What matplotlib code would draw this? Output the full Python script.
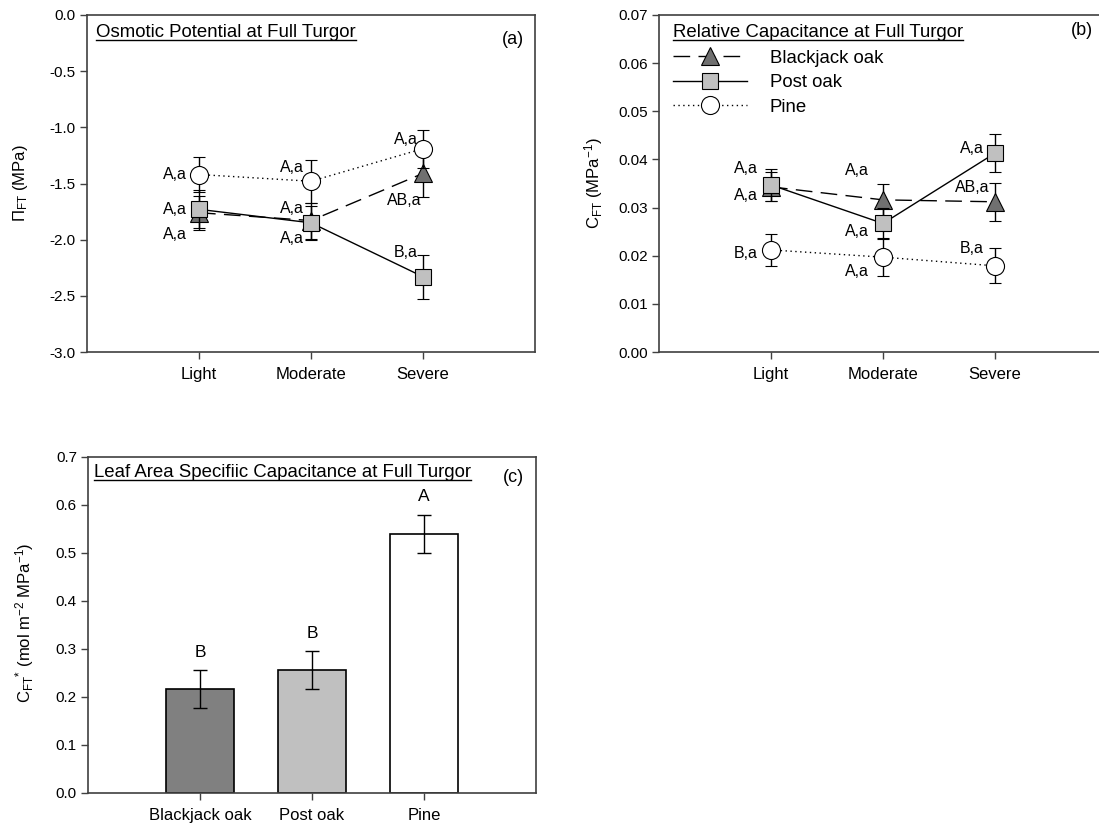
import matplotlib
matplotlib.use("Agg")
import matplotlib.pyplot as plt
import numpy as np
from matplotlib.lines import Line2D

plt.rcParams['font.family'] = ['Liberation Sans', 'DejaVu Sans']
plt.rcParams['mathtext.fontset'] = 'custom'
plt.rcParams['mathtext.rm'] = 'Liberation Sans'
plt.rcParams['mathtext.it'] = 'Liberation Sans:italic'
plt.rcParams['mathtext.bf'] = 'Liberation Sans:bold'

# ---------------- data ----------------
treatments = ["Light", "Moderate", "Severe"]
species = ["Blackjack oak", "Post oak", "Pine"]

# (a) osmotic potential at full turgor (MPa)
pi_blackjack = [-1.76, -1.83, -1.41]
pi_blackjack_err = [0.15, 0.16, 0.21]
pi_post = [-1.73, -1.85, -2.33]
pi_post_err = [0.17, 0.15, 0.195]
pi_pine = [-1.42, -1.48, -1.19]
pi_pine_err = [0.16, 0.19, 0.17]
pi_lab_blackjack = ["A,a", "A,a", "AB,a"]
pi_lab_post = ["A,a", "A,a", "B,a"]
pi_lab_pine = ["A,a", "A,a", "A,a"]

# (b) relative capacitance at full turgor (MPa^-1)
c_blackjack = [0.0343, 0.0316, 0.0312]
c_blackjack_err = [0.003, 0.0033, 0.004]
c_post = [0.0347, 0.0267, 0.0413]
c_post_err = [0.0034, 0.0032, 0.004]
c_pine = [0.0212, 0.0197, 0.0179]
c_pine_err = [0.0034, 0.004, 0.0036]
c_lab_post = ["A,a", "A,a", "A,a"]
c_lab_blackjack = ["A,a", "A,a", "AB,a"]
c_lab_pine = ["B,a", "A,a", "B,a"]

# (c) leaf area specific capacitance
cstar = [0.217, 0.256, 0.540]
cstar_err = [0.039, 0.039, 0.040]
cstar_lab = ["B", "B", "A"]

# ---------------- styling ----------------
W, H = 1099, 827
fig = plt.figure(figsize=(W / 100, H / 100), dpi=100)

def px_axes(left, top, right, bottom):
    return fig.add_axes([left / W, 1 - bottom / H, (right - left) / W, (bottom - top) / H])

spine_col = "#404040"
tri_col = "#707070"
sq_col = "#c0c0c0"
dash_ls = (0, (12, 6))
dot_ls = (0, (1, 2.5))

def style_axes(ax):
    for s in ax.spines.values():
        s.set_color(spine_col)
        s.set_linewidth(1.2)
    ax.tick_params(axis='both', direction='out', length=5, width=1, color=spine_col)
    ax.tick_params(axis='y', labelsize=11, pad=3)
    ax.tick_params(axis='x', labelsize=12, pad=6)
    ax.set_xlim(-1, 3)

def underlined_title(ax, x, y, s):
    t = ax.text(x, y, s, transform=ax.transAxes, fontsize=13.4, ha='left', va='center')
    return t

line_kw = dict(color='black', lw=1.0, elinewidth=1.0, capsize=4.5, capthick=1.0, ecolor='black')
xs = np.arange(len(treatments))

# ---------------- (a) ----------------
axa = px_axes(87, 15, 535, 352)
style_axes(axa)
axa.errorbar(xs, pi_blackjack, yerr=pi_blackjack_err, linestyle=dash_ls, marker='^',
             ms=13, mfc=tri_col, mec='black', mew=0.8, zorder=3, **line_kw)
axa.errorbar(xs, pi_post, yerr=pi_post_err, linestyle='-', marker='s',
             ms=12, mfc=sq_col, mec='black', mew=0.8, zorder=4, **line_kw)
axa.errorbar(xs, pi_pine, yerr=pi_pine_err, linestyle=dot_ls, marker='o',
             ms=13, mfc='white', mec='black', mew=0.8, zorder=5, **line_kw)
axa.set_ylim(-3.0, 0.0)
axa.set_yticks(np.arange(-3.0, 0.01, 0.5))
axa.set_yticklabels([f"{v:.1f}" for v in np.arange(-3.0, 0.01, 0.5)])
axa.set_xticks(xs)
axa.set_xticklabels(treatments)
ta = underlined_title(axa, 0.02, 0.947, "Osmotic Potential at Full Turgor")
axa.text(0.951, 0.926, "(a)", transform=axa.transAxes, fontsize=13, ha='center', va='center')
ann = 11.5
a_pos_pine = [(-0.11, -1.42), (0.94, -1.36), (1.95, -1.11)]
a_pos_post = [(-0.11, -1.73), (0.94, -1.72), (1.95, -2.11)]
a_pos_bj = [(-0.11, -1.95), (0.94, -1.99), (1.99, -1.65)]
for (x, y), s in zip(a_pos_pine, pi_lab_pine):
    axa.text(x, y, s, fontsize=ann, ha='right', va='center')
for (x, y), s in zip(a_pos_post, pi_lab_post):
    axa.text(x, y, s, fontsize=ann, ha='right', va='center')
for (x, y), s in zip(a_pos_bj, pi_lab_blackjack):
    axa.text(x, y, s, fontsize=ann, ha='right', va='center')
fig.text(20 / W, 1 - 183 / H, r"$\Pi_{\mathrm{FT}}$ (MPa)", rotation=90, fontsize=12,
         ha='center', va='center')

# ---------------- (b) ----------------
axb = px_axes(659, 15, 1107, 352)
style_axes(axb)
axb.errorbar(xs, c_blackjack, yerr=c_blackjack_err, linestyle=dash_ls, marker='^',
             ms=13, mfc=tri_col, mec='black', mew=0.8, zorder=3, **line_kw)
axb.errorbar(xs, c_post, yerr=c_post_err, linestyle='-', marker='s',
             ms=12, mfc=sq_col, mec='black', mew=0.8, zorder=4, **line_kw)
axb.errorbar(xs, c_pine, yerr=c_pine_err, linestyle=dot_ls, marker='o',
             ms=13, mfc='white', mec='black', mew=0.8, zorder=5, **line_kw)
axb.set_ylim(0, 0.07)
axb.set_yticks(np.arange(0, 0.0701, 0.01))
axb.set_yticklabels([f"{v:.2f}" for v in np.arange(0, 0.0701, 0.01)])
axb.set_xticks(xs)
axb.set_xticklabels(treatments)
tb = underlined_title(axb, 0.031, 0.947, "Relative Capacitance at Full Turgor")
axb.text(0.944, 0.955, "(b)", transform=axb.transAxes, fontsize=13, ha='center', va='center')
b_pos_post = [(-0.12, 0.0325), (0.87, 0.0250), (1.90, 0.0422)]
b_pos_bj = [(-0.12, 0.0382), (0.87, 0.0378), (1.95, 0.0341)]
b_pos_pine = [(-0.12, 0.0204), (0.87, 0.0167), (1.90, 0.0214)]
for (x, y), s in zip(b_pos_post, c_lab_post):
    axb.text(x, y, s, fontsize=ann, ha='right', va='center')
for (x, y), s in zip(b_pos_bj, c_lab_blackjack):
    axb.text(x, y, s, fontsize=ann, ha='right', va='center')
for (x, y), s in zip(b_pos_pine, c_lab_pine):
    axb.text(x, y, s, fontsize=ann, ha='right', va='center')
leg_handles = [
    Line2D([], [], color='black', lw=1.0, linestyle=dash_ls, marker='^', ms=13,
           mfc=tri_col, mec='black', mew=0.8),
    Line2D([], [], color='black', lw=1.0, linestyle='-', marker='s', ms=12,
           mfc=sq_col, mec='black', mew=0.8),
    Line2D([], [], color='black', lw=1.0, linestyle=dot_ls, marker='o', ms=13,
           mfc='white', mec='black', mew=0.8),
]
axb.legend(leg_handles, species, loc='upper left', bbox_to_anchor=(0.031, 0.897),
           frameon=False, fontsize=13.4, handlelength=4.0, handletextpad=1.2,
           labelspacing=0.4, borderaxespad=0, borderpad=0)
fig.text(594 / W, 1 - 183 / H, r"C$_{\mathrm{FT}}$ (MPa$^{-1}$)", rotation=90, fontsize=12,
         ha='center', va='center')

# ---------------- (c) ----------------
axc = px_axes(88, 457, 536, 793)
style_axes(axc)
bar_cols = ["#808080", "#c0c0c0", "#ffffff"]
xb = np.arange(len(species))
axc.bar(xb, cstar, width=0.6, color=bar_cols, edgecolor='black', linewidth=1.2, zorder=2)
axc.errorbar(xb, cstar, yerr=cstar_err, fmt='none', ecolor='black', elinewidth=1.0,
             capsize=5, capthick=1.0, zorder=3)
axc.set_ylim(0, 0.7)
axc.set_yticks(np.arange(0, 0.701, 0.1))
axc.set_yticklabels([f"{v:.1f}" for v in np.arange(0, 0.701, 0.1)])
axc.set_xticks(xb)
axc.set_xticklabels(species)
tc = underlined_title(axc, 0.013, 0.955, "Leaf Area Specifiic Capacitance at Full Turgor")
axc.text(0.949, 0.9375, "(c)", transform=axc.transAxes, fontsize=13, ha='center', va='center')
for x, v, e, s in zip(xb, cstar, cstar_err, cstar_lab):
    axc.text(x, v + e + 0.037, s, fontsize=12.5, ha='center', va='center')
fig.text(25 / W, 1 - 623 / H, r"C$_{\mathrm{FT}}$$^{*}$ (mol m$^{-2}$ MPa$^{-1}$)", rotation=90,
         fontsize=12, ha='center', va='center')

# underline the panel titles
fig.canvas.draw()
rend = fig.canvas.get_renderer()
for t in (ta, tb, tc):
    bb = t.get_window_extent(renderer=rend)
    y = bb.y0 + 1
    fig.add_artist(Line2D([bb.x0 / W, bb.x1 / W], [y / H, y / H], color='black', lw=1.0,
                          transform=fig.transFigure))

fig.savefig("out.png", dpi=100)
